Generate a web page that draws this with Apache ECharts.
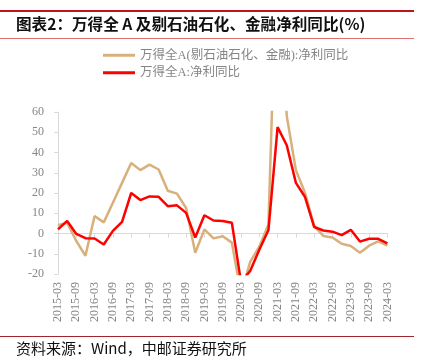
<!DOCTYPE html>
<html>
<head>
<meta charset="utf-8">
<script src="https://cdn.jsdelivr.net/npm/echarts@6/dist/echarts.min.js"></script>
<style>
html,body{margin:0;padding:0;background:#fff;}
#c{width:426px;height:357px;}
</style>
</head>
<body>
<div id="c"></div>
<script>
var categories = [
  '2015-03','2015-06','2015-09','2015-12',
  '2016-03','2016-06','2016-09','2016-12',
  '2017-03','2017-06','2017-09','2017-12',
  '2018-03','2018-06','2018-09','2018-12',
  '2019-03','2019-06','2019-09','2019-12',
  '2020-03','2020-06','2020-09','2020-12',
  '2021-03','2021-06','2021-09','2021-12',
  '2022-03','2022-06','2022-09','2022-12',
  '2023-03','2023-06','2023-09','2023-12',
  '2024-03'
];
var exFinOil = [4.1, 5.3, -3.7, -11.0, 8.6, 5.5, 15.2, 25.0, 34.8, 31.3, 34.0, 31.6,
  21.1, 19.7, 12.6, -9.5, 2.0, -2.4, -1.4, -4.5, -30.0, -14.0, -6.5, 4.5,
  150.0, 58.0, 31.3, 20.0, 3.8, -1.2, -2.0, -5.1, -6.2, -9.5, -6.0, -3.9, -6.0];
var allA = [2.0, 6.2, -0.2, -2.3, -2.5, -5.4, 1.3, 5.7, 20.0, 16.5, 18.3, 18.1,
  13.5, 13.9, 10.2, -2.0, 9.0, 6.4, 6.2, 5.3, -24.0, -18.5, -8.0, 1.7,
  52.5, 43.6, 25.0, 18.0, 3.2, 1.5, 0.9, -0.8, 1.8, -4.0, -2.6, -2.6, -4.9];
var seriesNames = ['万得全A(剔石油石化、金融):净利同比', '万得全A:净利同比'];
var titleText = '图表2：万得全 A 及剔石油石化、金融净利同比(%)';
var sourceText = '资料来源：Wind，中邮证券研究所';

var serif = '"Liberation Serif","Noto Sans CJK SC",serif';
var gray = '#858585';
var chart = echarts.init(document.getElementById('c'), null, {renderer: 'canvas'});
chart.setOption({
  animation: false,
  backgroundColor: '#fff',
  graphic: [
    {type: 'rect', shape: {x: 0, y: 10, width: 414, height: 2}, style: {fill: '#C0141C'}},
    {type: 'rect', shape: {x: 0, y: 38, width: 414, height: 1}, style: {fill: '#E07070'}},
    {type: 'text', left: 16, top: 16, style: {text: titleText, font: 'bold 15.6px "Noto Sans CJK SC"', fill: '#111'}},
    {type: 'rect', shape: {x: 0, y: 336, width: 414, height: 1}, style: {fill: '#A0262A'}},
    {type: 'text', left: 16, top: 341, style: {text: sourceText, font: '15px "Noto Sans CJK SC"', fill: '#111'}}
  ],
  legend: {
    orient: 'vertical',
    left: 98,
    top: 44,
    itemWidth: 32,
    itemHeight: 3,
    itemGap: 5,
    itemTextGap: 3,
    icon: 'rect',
    textStyle: {color: gray, fontSize: 12.5, fontFamily: serif},
    data: seriesNames
  },
  grid: {left: 58, right: 38.6, top: 112, bottom: 83, containLabel: false},
  xAxis: [
    {
      type: 'category', data: categories, boundaryGap: false, position: 'bottom',
      axisLine: {show: false, onZero: false},
      axisTick: {show: false},
      axisLabel: {interval: 1, rotate: 90, color: gray, fontSize: 12, fontFamily: serif, margin: 8}
    },
    {
      type: 'category', data: categories, boundaryGap: false, position: 'bottom',
      axisLine: {show: true, onZero: true, onZeroAxisIndex: 0, lineStyle: {color: '#d9d9d9', width: 1}},
      axisTick: {show: true, interval: 1, length: 4, inside: false, lineStyle: {color: '#d9d9d9'}},
      axisLabel: {show: false}
    }
  ],
  yAxis: {
    type: 'value', min: -20, max: 60, interval: 10,
    axisLine: {show: true, lineStyle: {color: '#d9d9d9'}},
    axisTick: {show: true, length: 4, lineStyle: {color: '#d9d9d9'}},
    splitLine: {show: false},
    axisLabel: {color: gray, fontSize: 12, fontFamily: serif, margin: 14}
  },
  series: [
    {name: seriesNames[0], type: 'line', data: exFinOil, showSymbol: false, symbol: 'none',
     lineStyle: {color: '#D8B07C', width: 2.5}, itemStyle: {color: '#D8B07C'}, clip: true},
    {name: seriesNames[1], type: 'line', data: allA, showSymbol: false, symbol: 'none',
     lineStyle: {color: '#FF0000', width: 2.5}, itemStyle: {color: '#FF0000'}, clip: true}
  ]
});
</script>
</body>
</html>
